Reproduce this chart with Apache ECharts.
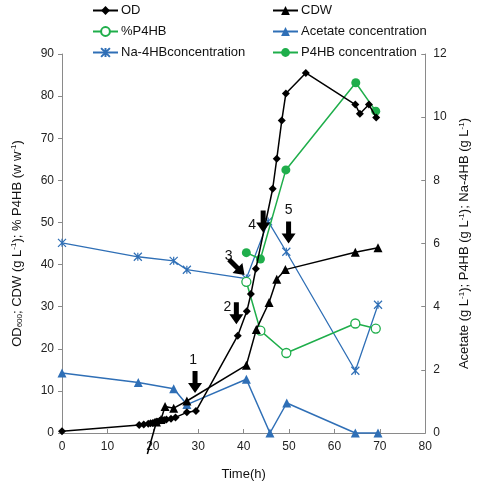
<!DOCTYPE html>
<html><head><meta charset="utf-8">
<script src="https://cdn.jsdelivr.net/npm/echarts@6/dist/echarts.min.js"></script>
<style>html,body{margin:0;padding:0;background:#fff}#c{width:479px;height:486px}</style>
</head><body><div id="c"></div>
<script>
// ---- data ----
const odTime = [0, 17, 18, 19, 19.5, 20, 20.5, 21, 21.5, 22, 22.5, 23, 24, 25, 27.5, 29.5, 38.7, 40.7, 41.6, 42.7, 46.4, 47.3, 48.4, 49.3, 53.7, 64.6, 65.6, 67.6, 69.2];
const odValue = [0.4, 1.9, 2.0, 2.2, 2.3, 2.4, 2.6, 2.7, 2.9, 3.0, 3.1, 3.2, 3.4, 3.7, 4.9, 5.2, 23.1, 28.9, 33.0, 39.0, 58.0, 65.1, 74.2, 80.6, 85.5, 78.0, 75.8, 78.0, 74.9];
const cdwTime = [18.8, 20.8, 21.8, 22.7, 24.6, 27.5, 40.6, 42.8, 45.6, 47.3, 49.2, 64.6, 69.6];
const cdwValue = [-5, 2.6, 3.2, 6.3, 5.9, 7.6, 16.1, 24.6, 31.0, 36.5, 38.8, 42.9, 44.0];
const pctTime = [40.6, 43.7, 49.4, 64.6, 69.1];
const pctValue = [35.9, 24.3, 19.0, 26.0, 24.8];
const acetateTime = [0, 16.8, 24.6, 27.5, 40.6, 45.8, 49.5, 64.6, 69.6];
const acetateValue = [1.9, 1.6, 1.4, 0.9, 1.7, 0, 0.95, 0, 0];
const naTime = [0, 16.7, 24.6, 27.5, 40.6, 45.4, 49.4, 64.6, 69.6];
const naValue = [6.02, 5.58, 5.45, 5.17, 4.89, 6.70, 5.74, 1.97, 4.06];
const p4Time = [40.6, 43.7, 49.3, 64.7, 69.1];
const p4Value = [5.71, 5.51, 8.33, 11.09, 10.19];
const xTicks = {min: 0, max: 80, interval: 10};
const yLeftTicks = {min: 0, max: 90, interval: 10};
const yRightTicks = {min: 0, max: 12, interval: 2};
// annotation arrows: label, tip time, tip value (left axis)
const arrowLabels = ['1', '2', '3', '4', '5'];
const arrowTime = [29.3, 38.4, 40.2, 44.3, 49.9];
const arrowValue = [9.5, 25.8, 37.5, 47.6, 45.0];

const zip = (a, b) => a.map((v, i) => [v, b[i]]);
const FONT = '"Liberation Sans", Arial, sans-serif';
const BLACK = '#000000', GREEN = '#1fae4b', BLUE = '#2f6fb6';
const xPath = 'path://M0,0 L10,10 M10,0 L0,10 M5,0 L5,10';

const cdwData = zip(cdwTime, cdwValue).map((p, i) => i === 0 ? {value: p, symbol: 'none'} : p);

const chart = echarts.init(document.getElementById('c'), null, {renderer: 'canvas'});
const axisLineStyle = {lineStyle: {color: '#8a8a8a', width: 1}};
const legendText = {fontSize: 13, color: '#111', fontFamily: FONT, padding: [0, 0, 0, -2]};
chart.setOption({
  animation: false,
  backgroundColor: '#fff',
  textStyle: {fontFamily: FONT},
  legend: [
    {left: 87, top: -1, orient: 'vertical', itemWidth: 25, itemHeight: 11, itemGap: 8,
     textStyle: legendText, data: ['OD', '%P4HB', 'Na-4HBconcentration']},
    {left: 267, top: -1, orient: 'vertical', itemWidth: 25, itemHeight: 11, itemGap: 8,
     textStyle: legendText, data: ['CDW', 'Acetate concentration', 'P4HB concentration']}
  ],
  grid: {left: 62, right: 46, top: 54, bottom: 45},
  xAxis: {type: 'value', min: xTicks.min, max: xTicks.max, interval: xTicks.interval,
    name: 'Time(h)', nameLocation: 'middle', nameGap: 35,
    nameTextStyle: {fontSize: 13, color: '#111', fontFamily: FONT},
    axisLine: axisLineStyle, axisTick: {inside: true, length: 4, lineStyle: {color: '#8a8a8a'}},
    axisLabel: {fontSize: 12, color: '#222', margin: 8}, splitLine: {show: false}},
  yAxis: [
    {type: 'value', min: yLeftTicks.min, max: yLeftTicks.max, interval: yLeftTicks.interval,
     name: 'OD{sub|600}; CDW (g L{sup|-1}); % P4HB (w w{sup|-1})', nameLocation: 'middle', nameGap: 38, nameRotate: 90,
     nameTextStyle: {fontSize: 13, color: '#111', fontFamily: FONT,
       rich: {sub: {fontSize: 8, verticalAlign: 'bottom', padding: [6, 0, 0, 0], fontFamily: FONT, color: '#111'},
              sup: {fontSize: 8, verticalAlign: 'top', padding: [0, 0, 6, 0], fontFamily: FONT, color: '#111'}}},
     axisLine: {show: true, lineStyle: {color: '#8a8a8a'}}, axisTick: {show: true, length: 4, lineStyle: {color: '#8a8a8a'}},
     axisLabel: {fontSize: 12, color: '#222', margin: 8}, splitLine: {show: false}},
    {type: 'value', min: yRightTicks.min, max: yRightTicks.max, interval: yRightTicks.interval, position: 'right',
     name: 'Acetate (g L{sup|-1}); P4HB (g L{sup|-1}); Na-4HB (g L{sup|-1})', nameLocation: 'middle', nameGap: 28, nameRotate: 90,
     nameTextStyle: {fontSize: 13, color: '#111', fontFamily: FONT,
       rich: {sup: {fontSize: 8, verticalAlign: 'top', padding: [0, 0, 6, 0], fontFamily: FONT, color: '#111'}}},
     axisLine: {show: true, lineStyle: {color: '#8a8a8a'}}, axisTick: {show: true, inside: true, length: 4, lineStyle: {color: '#8a8a8a'}},
     axisLabel: {fontSize: 12, color: '#222', margin: 8}, splitLine: {show: false}}
  ],
  series: [
    {name: 'OD', type: 'line', yAxisIndex: 0, data: zip(odTime, odValue), symbol: 'diamond', symbolSize: 8,
     lineStyle: {color: BLACK, width: 1.5}, itemStyle: {color: BLACK}, z: 5},
    {name: 'CDW', type: 'line', yAxisIndex: 0, data: cdwData, symbol: 'triangle', symbolSize: 9, clip: false,
     lineStyle: {color: BLACK, width: 1.5}, itemStyle: {color: BLACK}, z: 5},
    {name: '%P4HB', type: 'line', yAxisIndex: 0, data: zip(pctTime, pctValue), symbol: 'circle', symbolSize: 9,
     lineStyle: {color: GREEN, width: 1.5}, itemStyle: {color: '#fff', borderColor: GREEN, borderWidth: 1.3}, z: 4},
    {name: 'Acetate concentration', type: 'line', yAxisIndex: 1, data: zip(acetateTime, acetateValue), symbol: 'triangle', symbolSize: 9,
     lineStyle: {color: BLUE, width: 1.5}, itemStyle: {color: BLUE}, clip: false, z: 3},
    {name: 'Na-4HBconcentration', type: 'line', yAxisIndex: 1, data: zip(naTime, naValue), symbol: xPath, symbolSize: 8,
     lineStyle: {color: BLUE, width: 1.3}, itemStyle: {color: BLUE, borderColor: BLUE, borderWidth: 1.2}, z: 3},
    {name: 'P4HB concentration', type: 'line', yAxisIndex: 1, data: zip(p4Time, p4Value), symbol: 'circle', symbolSize: 9,
     lineStyle: {color: GREEN, width: 1.5}, itemStyle: {color: GREEN}, z: 4}
  ]
});

// annotation arrows
function arrowShape(tip, angleDeg) {
  const base = [[-2.5, -22], [2.5, -22], [2.5, -10], [7, -10], [0, 0], [-7, -10], [-2.5, -10]];
  const a = angleDeg * Math.PI / 180, c = Math.cos(a), s = Math.sin(a);
  return base.map(([x, y]) => [tip[0] + x * c - y * s, tip[1] + x * s + y * c]);
}
const angles = [0, 0, -45, 0, 0];
const labelOffsets = [[-2, -33], [-9, -17], [-16, -19], [-11, -7], [0, -33]];
const graphics = [];
arrowLabels.forEach((lab, i) => {
  const tip = chart.convertToPixel({xAxisIndex: 0, yAxisIndex: 0}, [arrowTime[i], arrowValue[i]]);
  graphics.push({type: 'polygon', shape: {points: arrowShape(tip, angles[i])}, style: {fill: '#000'}, z: 20});
  graphics.push({type: 'text', x: tip[0] + labelOffsets[i][0], y: tip[1] + labelOffsets[i][1],
    style: {text: lab, fontSize: 14, fill: '#111', font: '14px ' + FONT, align: 'center', verticalAlign: 'middle'}, z: 20});
});
chart.setOption({graphic: graphics});
</script></body></html>
